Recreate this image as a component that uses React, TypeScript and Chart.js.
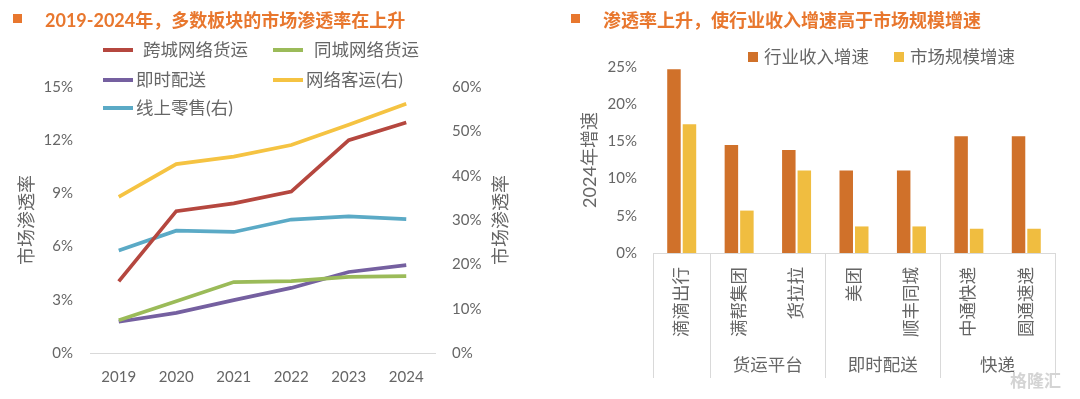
import React, { useEffect, useRef } from 'react';
import { Chart, registerables } from 'chart.js';
Chart.register(...registerables);

const FONT = 'Lato, "Noto Sans CJK SC", sans-serif';
const TEXT = '#666666';
const TITLE_ORANGE = '#E8772E';

// ---------- Left chart data ----------
const leftTitle = '2019-2024年，多数板块的市场渗透率在上升';
const years = ['2019', '2020', '2021', '2022', '2023', '2024'];
const seriesNames = ['跨城网络货运', '同城网络货运', '即时配送', '网络客运(右)', '线上零售(右)'];
const crossCityFreight = [4.04, 8.0, 8.44, 9.1, 12.0, 13.0];
const intraCityFreight = [1.85, 2.92, 4.0, 4.05, 4.29, 4.33];
const instantDelivery = [1.76, 2.26, 2.98, 3.67, 4.57, 4.96];
const rideHailing = [35.2, 42.6, 44.3, 46.9, 51.5, 56.2];
const onlineRetail = [23.1, 27.6, 27.3, 30.1, 30.8, 30.2];
const leftAxisMax = 15;
const leftAxisStep = 3;
const rightAxisMax = 60;
const rightAxisStep = 10;
const leftAxisTitle = '市场渗透率';
const rightAxisTitle = '市场渗透率';

// ---------- Right chart data ----------
const rightTitle = '渗透率上升，使行业收入增速高于市场规模增速';
const companies = ['滴滴出行', '满帮集团', '货拉拉', '美团', '顺丰同城', '中通快递', '圆通速递'];
const groupNames = ['', '货运平台', '即时配送', '快递'];
const groupSizes = [1, 2, 2, 2];
const barSeriesNames = ['行业收入增速', '市场规模增速'];
const revenueGrowth = [24.7, 14.5, 13.85, 11.1, 11.1, 15.7, 15.7];
const marketGrowth = [17.3, 5.7, 11.1, 3.57, 3.57, 3.26, 3.26];
const barAxisMax = 25;
const barAxisStep = 5;
const barAxisTitle = '2024年增速';
const watermark = '格隆汇';

const lineColors = ['#B5473F', '#9BBB59', '#7560A0', '#F5C342', '#5BAAC6'];
const barColors = ['#D0712A', '#F0BD40'];

function LeftChart() {
  const ref = useRef<HTMLCanvasElement>(null);
  useEffect(() => {
    const rightTitlePlugin = {
      id: 'rightTitle',
      afterDraw(chart: any) {
        const { ctx, chartArea } = chart;
        ctx.save();
        ctx.translate(501, (chartArea.top + chartArea.bottom) / 2);
        ctx.rotate(-Math.PI / 2);
        ctx.font = `18px ${FONT}`;
        ctx.fillStyle = TEXT;
        ctx.textAlign = 'center';
        ctx.textBaseline = 'middle';
        ctx.fillText(rightAxisTitle, 0, 0);
        ctx.restore();
      },
    };
    const values = [crossCityFreight, intraCityFreight, instantDelivery, rideHailing, onlineRetail];
    const axes = ['y', 'y', 'y', 'y1', 'y1'];
    const chart = new Chart(ref.current!, {
      type: 'line',
      data: {
        labels: years,
        datasets: seriesNames.map((name, i) => ({
          label: name,
          data: values[i],
          yAxisID: axes[i],
          borderColor: lineColors[i],
          backgroundColor: lineColors[i],
          borderWidth: 3.7,
          pointRadius: 0,
          tension: 0,
        })),
      },
      options: {
        animation: false,
        responsive: false,
        maintainAspectRatio: false,
        layout: { padding: { top: 87, left: 0, right: 0, bottom: 0 } },
        plugins: { legend: { display: false }, tooltip: { enabled: false } },
        scales: {
          x: {
            offset: true,
            grid: { display: false, offset: true, drawTicks: false },
            border: { display: true, color: '#D9D9D9', width: 1 },
            ticks: { font: { family: FONT, size: 15 }, color: TEXT, padding: 15 },
            afterFit: (s: any) => { s.height = 46; },
          },
          y: {
            position: 'left',
            min: 0,
            max: leftAxisMax,
            ticks: {
              stepSize: leftAxisStep,
              callback: (v: any) => v + '%',
              font: { family: FONT, size: 15 },
              color: TEXT,
              padding: 17,
            },
            grid: { display: false, drawTicks: false },
            border: { display: false },
            title: {
              display: true,
              text: leftAxisTitle,
              font: { family: FONT, size: 18 },
              color: TEXT,
              padding: { top: 16, bottom: 0 },
            },
            afterFit: (s: any) => { s.width = 90; },
          },
          y1: {
            position: 'right',
            min: 0,
            max: rightAxisMax,
            ticks: {
              stepSize: rightAxisStep,
              callback: (v: any) => v + '%',
              font: { family: FONT, size: 15 },
              color: TEXT,
              padding: 17,
            },
            grid: { display: false, drawTicks: false },
            border: { display: false },
            afterFit: (s: any) => { s.width = 105; },
          },
        },
      } as any,
      plugins: [rightTitlePlugin],
    });
    return () => chart.destroy();
  }, []);

  const legendPos = [
    { x: 103, y: 50, gap: 10 },
    { x: 273, y: 50, gap: 11 },
    { x: 103, y: 80, gap: 3 },
    { x: 273, y: 80, gap: 3 },
    { x: 103, y: 108, gap: 3 },
  ];

  return (
    <>
      <canvas ref={ref} width={540} height={399} style={{ position: 'absolute', left: 0, top: 0, width: 540, height: 399 }} />
      <div style={{ position: 'absolute', left: 13, top: 14, width: 9, height: 9, background: TITLE_ORANGE }} />
      <div style={{ position: 'absolute', left: 45, top: 8, font: `bold 18px ${FONT}`, lineHeight: '24px', color: TITLE_ORANGE, whiteSpace: 'nowrap' }}>{leftTitle}</div>
      {seriesNames.map((name, i) => (
        <div key={name} style={{ position: 'absolute', left: legendPos[i].x, top: legendPos[i].y - 12, height: 24, display: 'flex', alignItems: 'center', whiteSpace: 'nowrap' }}>
          <div style={{ width: 30, height: 4, background: lineColors[i], marginRight: legendPos[i].gap }} />
          <span style={{ font: `17.5px ${FONT}`, color: TEXT, lineHeight: '24px' }}>{name}</span>
        </div>
      ))}
    </>
  );
}

function RightChart() {
  const ref = useRef<HTMLCanvasElement>(null);
  useEffect(() => {
    const groupPlugin = {
      id: 'groups',
      afterDraw(chart: any) {
        const { ctx } = chart;
        const xs = chart.scales.x;
        const half = (xs.getPixelForTick(1) - xs.getPixelForTick(0)) / 2;
        ctx.save();
        ctx.strokeStyle = '#D9D9D9';
        ctx.lineWidth = 1;
        const top = xs.top;
        const bottom = xs.top + 125;
        const drawLine = (x: number) => {
          ctx.beginPath();
          ctx.moveTo(Math.round(x) + 0.5, top);
          ctx.lineTo(Math.round(x) + 0.5, bottom);
          ctx.stroke();
        };
        let start = 0;
        drawLine(xs.getPixelForTick(0) - half);
        ctx.font = `17.5px ${FONT}`;
        ctx.fillStyle = TEXT;
        ctx.textAlign = 'center';
        ctx.textBaseline = 'middle';
        groupSizes.forEach((size, gi) => {
          const end = start + size - 1;
          const left = xs.getPixelForTick(start) - half;
          const right = xs.getPixelForTick(end) + half;
          drawLine(right);
          if (groupNames[gi]) ctx.fillText(groupNames[gi], (left + right) / 2, top + 112);
          start += size;
        });
        ctx.restore();
      },
    };
    const values = [revenueGrowth, marketGrowth];
    const chart = new Chart(ref.current!, {
      type: 'bar',
      data: {
        labels: companies,
        datasets: barSeriesNames.map((name, i) => ({
          label: name,
          data: values[i],
          backgroundColor: barColors[i],
          borderWidth: 0,
          categoryPercentage: 0.54,
          barPercentage: 0.87,
        })),
      },
      options: {
        animation: false,
        responsive: false,
        maintainAspectRatio: false,
        layout: { padding: { top: 67, left: 0, right: 25, bottom: 0 } },
        plugins: { legend: { display: false }, tooltip: { enabled: false } },
        scales: {
          x: {
            grid: { display: false, drawTicks: false },
            border: { display: true, color: '#D9D9D9', width: 1 },
            ticks: {
              font: { family: FONT, size: 17.5 },
              color: TEXT,
              padding: 14,
              maxRotation: 90,
              minRotation: 90,
              autoSkip: false,
            },
            afterFit: (s: any) => { s.height = 146; },
          },
          y: {
            min: 0,
            max: barAxisMax,
            ticks: {
              stepSize: barAxisStep,
              callback: (v: any) => v + '%',
              font: { family: FONT, size: 15 },
              color: TEXT,
              padding: 16,
            },
            grid: { display: false, drawTicks: false },
            border: { display: false },
            title: {
              display: true,
              text: barAxisTitle,
              font: { family: FONT, size: 18 },
              color: TEXT,
              padding: { top: 39, bottom: 0 },
            },
            afterFit: (s: any) => { s.width = 113; },
          },
        },
      } as any,
      plugins: [groupPlugin],
    });
    return () => chart.destroy();
  }, []);

  const legendX = [748, 894];
  return (
    <>
      <canvas ref={ref} width={540} height={399} style={{ position: 'absolute', left: 540, top: 0, width: 540, height: 399 }} />
      <div style={{ position: 'absolute', left: 571, top: 14, width: 9, height: 9, background: TITLE_ORANGE }} />
      <div style={{ position: 'absolute', left: 603, top: 8, font: `bold 18px ${FONT}`, lineHeight: '24px', color: TITLE_ORANGE, whiteSpace: 'nowrap' }}>{rightTitle}</div>
      {barSeriesNames.map((name, i) => (
        <div key={name} style={{ position: 'absolute', left: legendX[i], top: 57 - 12, height: 24, display: 'flex', alignItems: 'center', whiteSpace: 'nowrap' }}>
          <div style={{ width: 10, height: 10, background: barColors[i], marginRight: 6 }} />
          <span style={{ font: `17.5px ${FONT}`, color: TEXT, lineHeight: '24px' }}>{name}</span>
        </div>
      ))}
      <div style={{ position: 'absolute', left: 1010, top: 369, font: `bold 17px ${FONT}`, color: '#D4D4D4', lineHeight: '24px', whiteSpace: 'nowrap' }}>{watermark}</div>
    </>
  );
}

export default function App() {
  return (
    <div style={{ position: 'absolute', left: 0, top: 0, width: 1080, height: 399, background: '#FFFFFF', overflow: 'hidden' }}>
      <LeftChart />
      <RightChart />
    </div>
  );
}
